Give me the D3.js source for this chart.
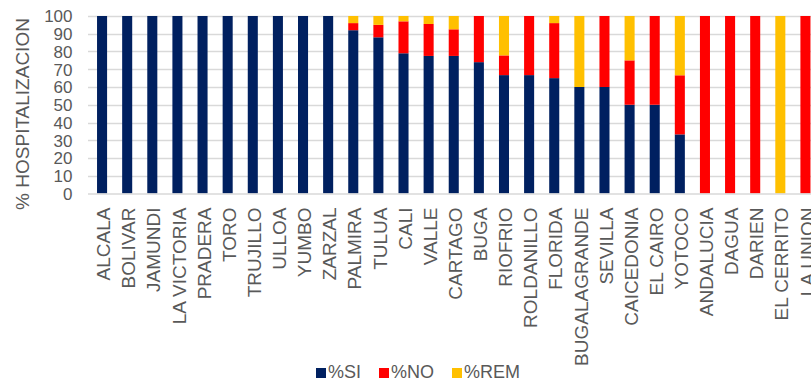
<!DOCTYPE html>
<html>
<head>
<meta charset="utf-8">
<script src="https://cdn.jsdelivr.net/npm/d3@7"></script>
<style>
  html, body { margin: 0; padding: 0; background: #fff; }
  svg { display: block; font-family: "Liberation Sans", Arial, sans-serif; }
</style>
</head>
<body>
<svg id="chart" width="811" height="382"></svg>
<script>
const categories = ["ALCALA","BOLIVAR","JAMUNDI","LA VICTORIA","PRADERA","TORO","TRUJILLO","ULLOA","YUMBO","ZARZAL",
  "PALMIRA","TULUA","CALI","VALLE","CARTAGO","BUGA","RIOFRIO","ROLDANILLO","FLORIDA","BUGALAGRANDE",
  "SEVILLA","CAICEDONIA","EL CAIRO","YOTOCO","ANDALUCIA","DAGUA","DARIEN","EL CERRITO","LA UNION"];
const si  = [100,100,100,100,100,100,100,100,100,100, 92,88,79,77.5,77.5,74,66.7,66.7,65,60, 60,50,50,33.3,0,0,0,0,0];
const no  = [0,0,0,0,0,0,0,0,0,0, 4,7,18,18,15,26,11.1,33.3,31,0, 40,25,50,33.3,100,100,100,0,100];
const rem = [0,0,0,0,0,0,0,0,0,0, 4,5,3,4.5,7.5,0,22.2,0,4,40, 0,25,0,33.4,0,0,0,100,0];
const seriesNames = ["%SI","%NO","%REM"];
const seriesColors = ["#002060","#FF0000","#FFC000"];
const yTicks = [0,10,20,30,40,50,60,70,80,90,100];
const yTitle = "% HOSPITALIZACION";

const rows = categories.map((c,i) => ({cat:c, "%SI":si[i], "%NO":no[i], "%REM":rem[i]}));
const svg = d3.select("#chart");
const m = {left: 89.5, right: 818, top: 16, bottom: 193.5};

const x = d3.scaleBand().domain(categories).range([m.left, m.right]).paddingInner(0.6).paddingOuter(0.3);
const y = d3.scaleLinear().domain([0,100]).range([m.bottom, m.top]);
const color = d3.scaleOrdinal().domain(seriesNames).range(seriesColors);

// gridlines
svg.append("g").selectAll("line").data(yTicks.filter(t => t > 0)).join("line")
  .attr("x1", 88).attr("x2", 811)
  .attr("y1", d => Math.round(y(d)) + 0.5).attr("y2", d => Math.round(y(d)) + 0.5)
  .attr("stroke", "#d9d9d9").attr("stroke-width", 1.5);

// bars
const stack = d3.stack().keys(seriesNames)(rows);
svg.append("g").selectAll("g").data(stack).join("g")
  .attr("fill", d => color(d.key))
  .selectAll("rect").data(d => d).join("rect")
  .attr("x", d => x(d.data.cat))
  .attr("width", x.bandwidth())
  .attr("y", d => y(d[1]))
  .attr("height", d => Math.max(0, y(d[0]) - y(d[1])));

// x axis line
svg.append("line").attr("x1", 88).attr("x2", 811)
  .attr("y1", m.bottom + 0.5).attr("y2", m.bottom + 0.5)
  .attr("stroke", "#d9d9d9").attr("stroke-width", 1.5);

// y axis
const yAxis = svg.append("g").attr("transform", `translate(${m.left},0)`)
  .call(d3.axisLeft(y).tickValues(yTicks).tickSize(0).tickPadding(17));
yAxis.select(".domain").remove();
yAxis.selectAll("text").attr("fill", "#595959").style("font-size", "17px")
  .attr("dy", "0.35em");

// x labels
const xAxis = svg.append("g").attr("transform", `translate(0,${m.bottom})`)
  .call(d3.axisBottom(x).tickSize(0));
xAxis.select(".domain").remove();
xAxis.selectAll("text")
  .attr("fill", "#595959").style("font-size", "19px")
  .attr("text-anchor", "end")
  .attr("transform", "rotate(-90)")
  .attr("x", -14).attr("y", 1.5).attr("dy", "0.35em");

// y title
svg.append("text")
  .attr("transform", `translate(22,114) rotate(-90)`)
  .attr("text-anchor", "middle").attr("dy", "0.35em")
  .attr("fill", "#595959").style("font-size", "19px")
  .text(yTitle);

// legend
const lg = svg.append("g").attr("transform", "translate(316,373)");
const offs = [0, 63, 136];
seriesNames.forEach((s, i) => {
  const g = lg.append("g").attr("transform", `translate(${offs[i]},0)`);
  g.append("rect").attr("x", 0).attr("y", -5).attr("width", 10).attr("height", 10).attr("fill", seriesColors[i]);
  g.append("text").attr("x", 12).attr("y", 5)
    .attr("fill", "#595959").style("font-size", "18px").text(s);
});
</script>
</body>
</html>
